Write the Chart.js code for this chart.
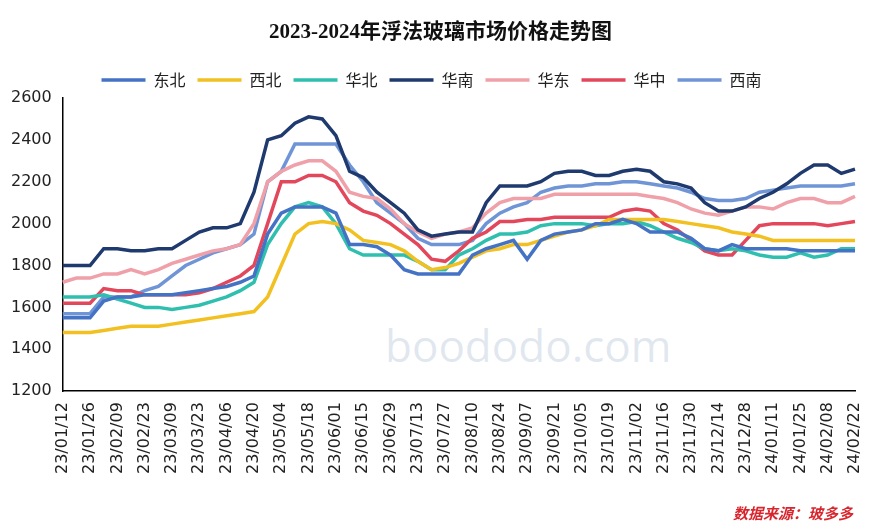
<!DOCTYPE html>
<html>
<head>
<meta charset="utf-8">
<script src="https://cdn.jsdelivr.net/npm/chart.js@4/dist/chart.umd.min.js"></script>
<style>
  html, body { margin: 0; padding: 0; background: #fff; }
  #wrap { position: relative; width: 881px; height: 529px; }
  #title { position: absolute; top: 14px; left: 0; width: 881px; text-align: center;
           font: bold 21px "Liberation Serif", "Noto Sans CJK SC", serif; color: #111; }
  #src { position: absolute; right: 28px; bottom: 6px; color: #d8262e;
         font: italic bold 15px "Noto Sans CJK SC", sans-serif; }
  #mark { position: absolute; left: 385px; top: 315px; font: 44px "Open Sans", sans-serif;
          color: rgba(150,170,200,0.28); }
  canvas { position: absolute; left: 0; top: 0; }
</style>
</head>
<body>
<div id="wrap">
  <div id="mark">boododo.com</div>
  <canvas id="c" width="881" height="529"></canvas>
  <div id="title">2023-2024年浮法玻璃市场价格走势图</div>
  <div id="src">数据来源：玻多多</div>
</div>
<script>
var seriesNames = ['东北', '西北', '华北', '华南', '华东', '华中', '西南'];
var seriesColors = ['#4472c4', '#f2c021', '#2fbfae', '#1f3a6e', '#f0a0a8', '#e2475c', '#7095d6'];

var dongbei = [1550,1550,1550,1630,1650,1650,1660,1660,1660,1670,1680,1690,1700,1720,1750,1950,2050,2080,2080,2080,2050,1900,1900,1890,1850,1780,1760,1760,1760,1760,1850,1880,1900,1920,1830,1920,1950,1960,1970,2000,2000,2020,2000,1960,1960,1960,1930,1880,1870,1900,1880,1880,1880,1880,1870,1870,1870,1870,1870];
var xibei = [1480,1480,1480,1490,1500,1510,1510,1510,1520,1530,1540,1550,1560,1570,1580,1650,1800,1950,2000,2010,2000,1970,1920,1910,1900,1870,1820,1780,1790,1810,1840,1870,1880,1900,1900,1920,1940,1960,1970,1990,2020,2020,2020,2020,2020,2010,2000,1990,1980,1960,1950,1940,1920,1920,1920,1920,1920,1920,1920];
var huabei = [1650,1650,1650,1660,1640,1620,1600,1600,1590,1600,1610,1630,1650,1680,1720,1900,2000,2080,2100,2080,2000,1880,1850,1850,1850,1850,1820,1780,1780,1850,1880,1920,1950,1950,1960,1990,2000,2000,2000,1990,2000,2000,2010,1990,1960,1930,1910,1880,1870,1880,1870,1850,1840,1840,1860,1840,1850,1880,1880];
var huanan = [1800,1800,1800,1880,1880,1870,1870,1880,1880,1920,1960,1980,1980,2000,2150,2400,2420,2480,2510,2500,2420,2250,2220,2150,2100,2050,1970,1940,1950,1960,1960,2100,2180,2180,2180,2200,2240,2250,2250,2230,2230,2250,2260,2250,2200,2190,2170,2100,2060,2060,2080,2120,2150,2190,2240,2280,2280,2240,2260];
var huadong = [1720,1740,1740,1760,1760,1780,1760,1780,1810,1830,1850,1870,1880,1900,2000,2200,2250,2280,2300,2300,2250,2150,2130,2120,2070,2000,1960,1930,1950,1960,1980,2050,2100,2120,2120,2120,2140,2140,2140,2140,2140,2140,2140,2130,2120,2100,2070,2050,2040,2060,2080,2080,2070,2100,2120,2120,2100,2100,2130];
var huazhong = [1620,1620,1620,1690,1680,1680,1660,1660,1660,1660,1670,1690,1720,1750,1800,2000,2200,2200,2230,2230,2200,2100,2060,2040,2000,1950,1900,1830,1820,1870,1930,1960,2010,2010,2020,2020,2030,2030,2030,2030,2030,2060,2070,2060,2000,1970,1920,1870,1850,1850,1920,1990,2000,2000,2000,2000,1990,2000,2010];
var xinan = [1570,1570,1570,1650,1650,1650,1680,1700,1750,1800,1830,1860,1880,1900,1950,2200,2250,2380,2380,2380,2380,2280,2200,2100,2050,2000,1930,1900,1900,1900,1920,2000,2050,2080,2100,2150,2170,2180,2180,2190,2190,2200,2200,2190,2180,2170,2150,2120,2110,2110,2120,2150,2160,2170,2180,2180,2180,2180,2190];

var yTicks = [1200, 1400, 1600, 1800, 2000, 2200, 2400, 2600];

// weekly dates from 23/01/12 to 24/02/22
function weekLabels(n) {
    var out = [];
    var d = new Date(Date.UTC(2023, 0, 12));
    for (var i = 0; i < n; i++) {
        var yy = String(d.getUTCFullYear()).slice(2);
        var mm = ('0' + (d.getUTCMonth() + 1)).slice(-2);
        var dd = ('0' + d.getUTCDate()).slice(-2);
        out.push(yy + '/' + mm + '/' + dd);
        d.setUTCDate(d.getUTCDate() + 7);
    }
    return out;
}
var labels = weekLabels(dongbei.length);

var allData = [dongbei, xibei, huabei, huanan, huadong, huazhong, xinan];
var datasets = allData.map(function (arr, i) {
    return {
        label: seriesNames[i],
        data: arr,
        borderColor: seriesColors[i],
        backgroundColor: seriesColors[i],
        borderWidth: 3.5,
        pointRadius: 0,
        tension: 0,
        fill: false
    };
});

new Chart(document.getElementById('c'), {
    type: 'line',
    data: { labels: labels, datasets: datasets },
    options: {
        responsive: false,
        animation: false,
        layout: { padding: { top: 60, right: 26, left: 8, bottom: 52 } },
        plugins: {
            legend: {
                position: 'top',
                labels: {
                    usePointStyle: true,
                    pointStyle: 'line',
                    pointStyleWidth: 44,
                    boxHeight: 4,
                    color: '#222',
                    padding: 12,
                    font: { size: 16, family: '"Noto Sans CJK SC", sans-serif' }
                }
            },
            tooltip: { enabled: false }
        },
        scales: {
            x: {
                grid: { display: false },
                border: { color: '#000', width: 1.5 },
                ticks: {
                    autoSkip: false,
                    maxRotation: 90,
                    minRotation: 90,
                    color: '#222',
                    font: { size: 16, family: '"DejaVu Sans", sans-serif' },
                    callback: function (v, i) { return i % 2 === 0 ? labels[i] : ''; }
                }
            },
            y: {
                min: yTicks[0],
                max: yTicks[yTicks.length - 1],
                grid: { display: false },
                border: { color: '#000', width: 1.5 },
                afterBuildTicks: function (ax) { ax.ticks = yTicks.map(function (v) { return { value: v }; }); },
                ticks: {
                    color: '#222',
                    font: { size: 16, family: '"DejaVu Sans", sans-serif' },
                    callback: function (v) { return String(v); }
                }
            }
        }
    }
});
</script>
</body>
</html>
